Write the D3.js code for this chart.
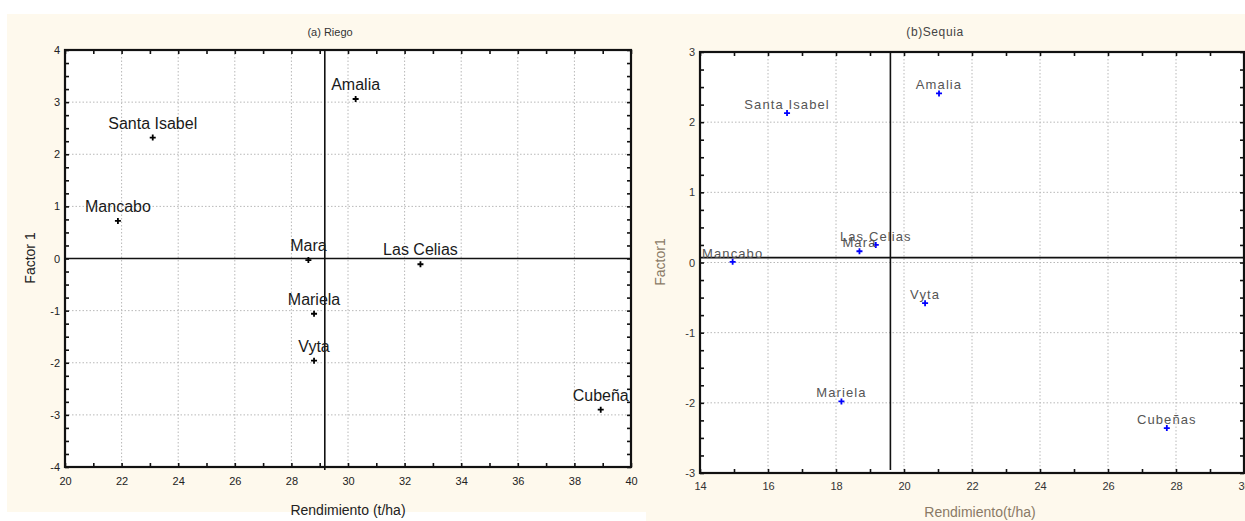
<!DOCTYPE html>
<html><head><meta charset="utf-8">
<script src="https://cdn.jsdelivr.net/npm/d3@7"></script>
<style>
html,body{margin:0;padding:0;background:#fff;}
svg{display:block;font-family:"Liberation Sans",Arial,sans-serif;}
</style></head>
<body>
<svg id="chart" width="1245" height="521"></svg>
<script>
// ---- Data ----
const namesRiego = ["Amalia","Santa Isabel","Mancabo","Mara","Las Celias","Mariela","Vyta","Cubeña"];
const xRiego = [30.27, 23.1, 21.87, 28.6, 32.56, 28.8, 28.8, 38.93];
const yRiego = [3.06, 2.32, 0.72, -0.03, -0.11, -1.06, -1.96, -2.9];
const crossRiego = [29.18, 0];

const namesSequia = ["Amalia","Santa Isabel","Las Celias","Mara","Mancabo","Vyta","Mariela","Cubeñas"];
const xSequia = [21.03, 16.56, 19.17, 18.69, 14.96, 20.62, 18.16, 27.73];
const ySequia = [2.41, 2.13, 0.25, 0.16, 0.01, -0.58, -1.98, -2.36];
const crossSequia = [19.6, 0.07];

const xTicksRiego = [20,22,24,26,28,30,32,34,36,38,40];
const yTicksRiego = [-4,-3,-2,-1,0,1,2,3,4];
const xTicksSequia = [14,16,18,20,22,24,26,28,30];
const yTicksSequia = [-3,-2,-1,0,1,2,3];

const titles = ["(a) Riego", "(b)Sequia"];
const xTitles = ["Rendimiento (t/ha)", "Rendimiento(t/ha)"];
const yTitles = ["Factor 1", "Factor1"];

const svg = d3.select("#chart");

// backgrounds
svg.append("rect").attr("x",7).attr("y",14).attr("width",639).attr("height",498).attr("fill","#fef9ed");
svg.append("rect").attr("x",646).attr("y",14).attr("width",599).attr("height",507).attr("fill","#fef9ed");

const fmt = d => String(d);

function panel(cfg){
  const g = svg.append("g");
  const x = d3.scaleLinear().domain(cfg.xDomain).range([cfg.left, cfg.right]);
  const y = d3.scaleLinear().domain(cfg.yDomain).range([cfg.bottom, cfg.top]);
  g.append("rect").attr("x",cfg.left).attr("y",cfg.top)
    .attr("width",cfg.right-cfg.left).attr("height",cfg.bottom-cfg.top).attr("fill","#fff");
  // grid
  g.append("g").selectAll("line").data(cfg.xTicks.slice(1,-1)).join("line")
    .attr("x1",d=>x(d)).attr("x2",d=>x(d)).attr("y1",cfg.top).attr("y2",cfg.bottom)
    .attr("stroke","#b8b8b8").attr("stroke-width",1).attr("stroke-dasharray","1.5,2");
  g.append("g").selectAll("line").data(cfg.yTicks.slice(1,-1)).join("line")
    .attr("y1",d=>y(d)).attr("y2",d=>y(d)).attr("x1",cfg.left).attr("x2",cfg.right)
    .attr("stroke","#b8b8b8").attr("stroke-width",1).attr("stroke-dasharray","1.5,2");
  // inward ticks on four sides
  const xMinor = d3.range(cfg.xDomain[0], cfg.xDomain[1]+0.001, 1);
  const yMinor = d3.range(cfg.yDomain[0], cfg.yDomain[1]+0.001, 0.25);
  const styleAxis = sel => { sel.select(".domain").remove(); sel.selectAll("line").attr("stroke","#111").attr("stroke-width",1.6); sel.selectAll("text").remove(); };
  g.append("g").attr("transform",`translate(0,${cfg.bottom})`)
    .call(d3.axisTop(x).tickValues(xMinor).tickSize(4)).call(styleAxis);
  g.append("g").attr("transform",`translate(0,${cfg.top})`)
    .call(d3.axisBottom(x).tickValues(xMinor).tickSize(4)).call(styleAxis);
  g.append("g").attr("transform",`translate(${cfg.left},0)`)
    .call(d3.axisRight(y).tickValues(yMinor).tickSize(4)).call(styleAxis);
  g.append("g").attr("transform",`translate(${cfg.right},0)`)
    .call(d3.axisLeft(y).tickValues(yMinor).tickSize(4)).call(styleAxis);
  // tick labels
  const xl = g.append("g").attr("transform",`translate(0,${cfg.bottom})`)
    .call(d3.axisBottom(x).tickValues(cfg.xTicks).tickSize(0).tickPadding(cfg.xPad).tickFormat(fmt));
  xl.select(".domain").remove();
  xl.selectAll("text").attr("font-size",11).attr("fill",cfg.tickColor).attr("font-family","Liberation Sans, Arial");
  const yl = g.append("g").attr("transform",`translate(${cfg.left},0)`)
    .call(d3.axisLeft(y).tickValues(cfg.yTicks).tickSize(0).tickPadding(5).tickFormat(fmt));
  yl.select(".domain").remove();
  yl.selectAll("text").attr("font-size",11).attr("fill",cfg.tickColor).attr("font-family","Liberation Sans, Arial");
  // frame
  g.append("rect").attr("x",cfg.left).attr("y",cfg.top)
    .attr("width",cfg.right-cfg.left).attr("height",cfg.bottom-cfg.top)
    .attr("fill","none").attr("stroke","#111").attr("stroke-width",2.2);
  // crosshair
  g.append("line").attr("x1",x(cfg.cross[0])).attr("x2",x(cfg.cross[0]))
    .attr("y1",cfg.top).attr("y2",cfg.bottom+cfg.vExt)
    .attr("stroke","#111").attr("stroke-width",1.6);
  g.append("line").attr("x1",cfg.left).attr("x2",cfg.right)
    .attr("y1",y(cfg.cross[1])).attr("y2",y(cfg.cross[1]))
    .attr("stroke","#111").attr("stroke-width",1.6);
  // points
  const pts = cfg.names.map((n,i)=>({n, x:cfg.xs[i], y:cfg.ys[i]}));
  const s = 3;
  const pg = g.append("g").selectAll("g").data(pts).join("g")
    .attr("transform",d=>`translate(${x(d.x)},${y(d.y)})`);
  pg.append("path").attr("d",`M${-s},0H${s}M0,${-s}V${s}`)
    .attr("stroke",cfg.markColor).attr("stroke-width",1.8);
  pg.append("text").text(d=>d.n).attr("text-anchor","middle")
    .attr("y",-cfg.labelOff).attr("font-size",cfg.labelSize)
    .attr("letter-spacing",cfg.labelSpacing)
    .attr("fill",cfg.labelColor);
  // titles
  svg.append("text").attr("x",cfg.titleX).attr("y",36).attr("text-anchor","middle")
    .attr("font-size",cfg.titleSize).attr("letter-spacing",cfg.titleSpacing)
    .attr("fill",cfg.titleColor).text(cfg.title);
  svg.append("text").attr("x",cfg.xTitleX).attr("y",cfg.xTitleY).attr("text-anchor","middle")
    .attr("font-size",14).attr("fill",cfg.axisTitleColor).text(cfg.xTitle);
  svg.append("text").attr("transform",`translate(${cfg.yTitleX},${cfg.yTitleY}) rotate(-90)`)
    .attr("text-anchor","middle").attr("font-size",14).attr("fill",cfg.axisTitleColor).text(cfg.yTitle);
}

panel({
  left:65, right:631, top:50, bottom:467,
  xDomain:[20,40], yDomain:[-4,4], xTicks:xTicksRiego, yTicks:yTicksRiego,
  names:namesRiego, xs:xRiego, ys:yRiego, cross:crossRiego, vExt:3,
  markColor:"#000", labelColor:"#1a1a1a", labelSize:16, labelSpacing:0, labelOff:9,
  tickColor:"#222", xPad:10,
  title:titles[0], titleX:330, titleSize:11, titleSpacing:0, titleColor:"#333",
  xTitle:xTitles[0], xTitleX:348, xTitleY:515, yTitle:yTitles[0], yTitleX:35, yTitleY:258,
  axisTitleColor:"#222"
});

panel({
  left:700, right:1244, top:52, bottom:473,
  xDomain:[14,30], yDomain:[-3,3], xTicks:xTicksSequia, yTicks:yTicksSequia,
  names:namesSequia, xs:xSequia, ys:ySequia, cross:crossSequia, vExt:-3,
  markColor:"#0000ff", labelColor:"#555", labelSize:13, labelSpacing:1.1, labelOff:4,
  tickColor:"#333", xPad:9,
  title:titles[1], titleX:935, titleSize:12, titleSpacing:0.6, titleColor:"#444",
  xTitle:xTitles[1], xTitleX:980, xTitleY:517, yTitle:yTitles[1], yTitleX:665, yTitleY:262,
  axisTitleColor:"#8a7a66"
});
</script>
</body></html>
